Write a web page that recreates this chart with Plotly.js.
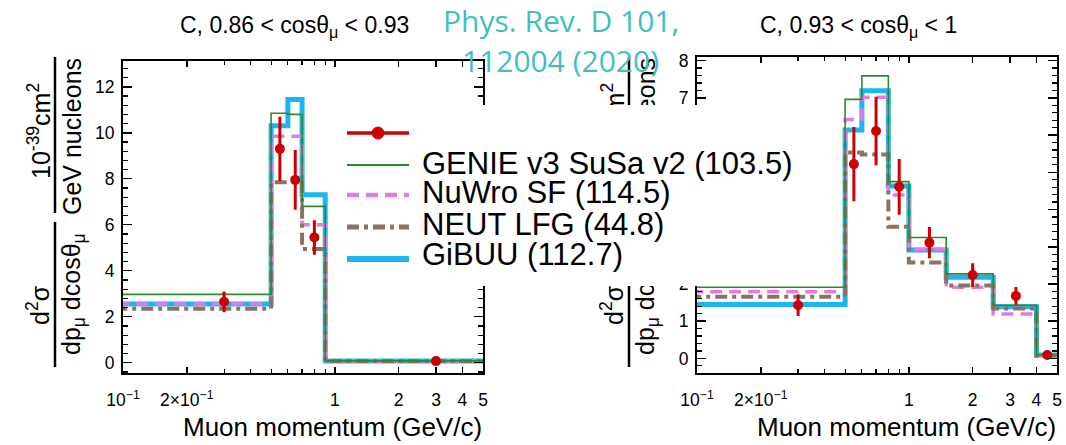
<!DOCTYPE html>
<html>
<head>
<meta charset="utf-8">
<script src="https://cdn.plot.ly/plotly-3.0.1.min.js"></script>
<style>
  html, body { margin: 0; padding: 0; background: #fff; }
  #chart { width: 1066px; height: 445px; }
</style>
</head>
<body>
<div id="chart"></div>
<script>
// Muon momentum bin edges (GeV/c); first bin starts at 0, last bin ends at 30
const edgesLow  = [0, 0.5, 0.6, 0.7, 0.9, 30];
const edgesHigh = [0, 0.5, 0.6, 0.8, 1.0, 1.5, 2.5, 4.0, 30];

// C, 0.86 < cos(theta_mu) < 0.93  (1e-39 cm^2 / GeV / nucleon)
const genieLow = [2.97, 10.85, 10.8, 6.8, 0.08];
const nuwroLow = [2.55, 9.85, 9.85, 6.0, 0.08];
const neutLow  = [2.35, 7.85, 7.85, 4.95, 0.07];
const gibuuLow = [2.55, 10.3, 11.45, 7.3, 0.08];
const dataPLow   = [0.3, 0.55, 0.65, 0.8, 3.0];
const dataLow    = [2.65, 9.3, 7.95, 5.45, 0.07];
const dataErrLow = [0.45, 1.4, 1.3, 0.75, 0.03];

// C, 0.93 < cos(theta_mu) < 1
const genieHigh = [1.91, 6.96, 7.59, 4.75, 3.25, 2.27, 1.43, 0.09];
const nuwroHigh = [1.79, 6.42, 7.02, 4.39, 2.93, 1.91, 1.19, 0.07];
const neutHigh  = [1.66, 5.53, 5.48, 3.54, 2.58, 1.96, 1.34, 0.08];
const gibuuHigh = [1.45, 6.14, 7.19, 4.63, 2.91, 2.18, 1.39, 0.09];
const dataPHigh   = [0.3, 0.55, 0.70, 0.9, 1.25, 2.0, 3.2, 4.5];
const dataHigh    = [1.43, 5.22, 6.11, 4.61, 3.11, 2.24, 1.68, 0.09];
const dataErrHigh = [0.29, 1.0, 0.92, 0.75, 0.42, 0.32, 0.24, 0.04];

// Generator names and their chi2 values
const modelNames = ['GENIE v3 SuSa v2', 'NuWro SF', 'NEUT LFG', 'GiBUU'];
const modelChi2  = [103.5, 114.5, 44.8, 112.7];

// Axis tick labels
const xTickVals  = [0.1, 0.2, 1, 2, 3, 4, 5];
const xTickText  = ['10<sup>\u22121</sup>', '2\u00d710<sup>\u22121</sup>', '1', '2', '3', '4', '5'];
const xMinorVals = [0.3, 0.4, 0.5, 0.6, 0.7, 0.8, 0.9];

const W = 1066, H = 445;
const fx = p => p / W;          // pixel -> paper x
const fy = p => 1 - p / H;      // pixel -> paper y

const styles = {
  'GENIE v3 SuSa v2': { color: '#2b8a2b', width: 1.6, dash: 'solid' },
  'NuWro SF':         { color: '#e47ae8', width: 3.5, dash: '12px,7px' },
  'NEUT LFG':         { color: '#8b7361', width: 4,   dash: '12px,5px,4px,5px' },
  'GiBUU':            { color: '#1cb5ef', width: 5,   dash: 'solid' }
};
const dataColor = '#cc0000';

// Build an 'hv' step outline from bin edges and bin contents
function stepXY(edges, vals) {
  const x = [], y = [];
  vals.forEach((v, i) => { x.push(Math.max(edges[i], 1e-3)); y.push(v); });
  x.push(edges[edges.length - 1]); y.push(vals[vals.length - 1]);
  return { x, y };
}

function panelTraces(edges, series, dp, dv, de, xa, ya) {
  const order = ['GiBUU', 'NuWro SF', 'NEUT LFG', 'GENIE v3 SuSa v2'];
  const tr = order.map(name => {
    const s = stepXY(edges, series[name]);
    const st = styles[name];
    return {
      type: 'scatter', mode: 'lines', name: name, x: s.x, y: s.y,
      xaxis: xa, yaxis: ya, line: { shape: 'hv', color: st.color, width: st.width, dash: st.dash },
      hoverinfo: 'skip'
    };
  });
  tr.push({
    type: 'scatter', mode: 'markers', name: 'Data', x: dp, y: dv, xaxis: xa, yaxis: ya,
    marker: { color: dataColor, size: 10 },
    error_y: { type: 'data', array: de, visible: true, thickness: 3, width: 0, color: dataColor }
  });
  return tr;
}

const traces = [].concat(
  panelTraces(edgesLow, { 'GENIE v3 SuSa v2': genieLow, 'NuWro SF': nuwroLow, 'NEUT LFG': neutLow, 'GiBUU': gibuuLow },
              dataPLow, dataLow, dataErrLow, 'x', 'y'),
  panelTraces(edgesHigh, { 'GENIE v3 SuSa v2': genieHigh, 'NuWro SF': nuwroHigh, 'NEUT LFG': neutHigh, 'GiBUU': gibuuHigh },
              dataPHigh, dataHigh, dataErrHigh, 'x2', 'y2')
);

const tickFont = { family: 'Liberation Sans, Arial, sans-serif', size: 17.5, color: '#000' };
const frame = {
  showline: true, linecolor: '#000', linewidth: 2, mirror: 'allticks',
  ticks: 'inside', tickcolor: '#000', tickwidth: 1.5,
  showgrid: false, zeroline: false, tickfont: tickFont, fixedrange: true
};
const xAxis = (dom, anchor) => Object.assign({}, frame, {
  domain: dom, anchor: anchor, type: 'log', range: [-1, Math.log10(5)],
  tickmode: 'array', tickvals: xTickVals, ticktext: xTickText, ticklen: 6,
  ticklabelstandoff: 10,
  minor: { ticks: 'inside', ticklen: 4, tickwidth: 1.2, tickcolor: '#000', tickmode: 'array', tickvals: xMinorVals, showgrid: false }
});
const yAxis = (dom, anchor, range, dt, mdt) => Object.assign({}, frame, {
  domain: dom, anchor: anchor, range: range, tickmode: 'linear', tick0: 0, dtick: dt, ticklen: 9,
  ticklabelstandoff: 3,
  minor: { ticks: 'inside', ticklen: 5, tickwidth: 1.2, tickcolor: '#000', dtick: mdt, tick0: 0, showgrid: false }
});

// Rotated fraction title for the y axes, offset by dx pixels
function yTitle(dx) {
  const f = { family: 'Liberation Sans, Arial, sans-serif', size: 25, color: '#000' };
  const ann = [
    { text: 'd<sup>2</sup>\u03c3', x: fx(38 + dx), y: fy(305) },
    { text: 'dp<sub>\u03bc</sub> dcos\u03b8<sub>\u03bc</sub>', x: fx(73 + dx), y: fy(294) },
    { text: '10<sup>-39</sup>cm<sup>2</sup>', x: fx(39 + dx), y: fy(131) },
    { text: 'GeV nucleons', x: fx(72 + dx), y: fy(137) }
  ].map(a => Object.assign(a, { xref: 'paper', yref: 'paper', textangle: -90, showarrow: false,
                                  xanchor: 'center', yanchor: 'middle', font: f }));
  const shp = [
    { type: 'line', xref: 'paper', yref: 'paper', x0: fx(55 + dx), x1: fx(55 + dx), y0: fy(222), y1: fy(367), line: { color: '#000', width: 2.5 } },
    { type: 'line', xref: 'paper', yref: 'paper', x0: fx(55 + dx), x1: fx(55 + dx), y0: fy(57), y1: fy(213), line: { color: '#000', width: 2.5 } }
  ];
  return { ann, shp };
}

const titleFont = { family: 'Liberation Sans, Arial, sans-serif', size: 23, color: '#000' };
const axTitleFont = { family: 'Liberation Sans, Arial, sans-serif', size: 26, color: '#000' };
const legFont = { family: 'Liberation Sans, Arial, sans-serif', size: 31, color: '#000' };
const refFont = { family: 'Open Sans, Noto Sans, sans-serif', size: 30, color: '#40bfc1' };

const ytL = yTitle(0), ytR = yTitle(574);

const annotations = [
  { text: 'C, 0.86 &lt; cos\u03b8<sub>\u03bc</sub> &lt; 0.93', x: fx(294), y: fy(26), font: titleFont },
  { text: 'C, 0.93 &lt; cos\u03b8<sub>\u03bc</sub> &lt; 1', x: fx(858), y: fy(26), font: titleFont },
  { text: 'Muon momentum (GeV/c)', x: fx(484), y: fy(427), xanchor: 'right', font: axTitleFont },
  { text: 'Muon momentum (GeV/c)', x: fx(1058), y: fy(427), xanchor: 'right', font: axTitleFont }
].map(a => Object.assign({ xref: 'paper', yref: 'paper', showarrow: false, xanchor: 'center', yanchor: 'middle' }, a))
 .concat(ytL.ann);
// the right-hand title sits behind the legend panel
const rightTitleStart = annotations.length;
ytR.ann.forEach(a => annotations.push(a));
const rightTitleEnd = annotations.length;

// Legend: white panel, line samples and labels
const legRows = [165, 195, 227, 259];
const legTextY = [163, 192, 224, 254];
const shapes = [].concat(ytL.shp, ytR.shp);
shapes.push({ type: 'rect', xref: 'paper', yref: 'paper', layer: 'above',
  x0: fx(336), x1: fx(800), y0: fy(105), y1: fy(286), fillcolor: '#fff', line: { width: 0 } });
shapes.push({ type: 'line', xref: 'paper', yref: 'paper', layer: 'above',
  x0: fx(347), x1: fx(409), y0: fy(133), y1: fy(133), line: { color: dataColor, width: 3.5 } });
shapes.push({ type: 'circle', xref: 'paper', yref: 'paper', layer: 'above',
  x0: fx(372), x1: fx(384), y0: fy(127), y1: fy(139), fillcolor: dataColor, line: { color: dataColor, width: 1 } });
modelNames.forEach((name, i) => {
  const st = styles[name];
  shapes.push({ type: 'line', xref: 'paper', yref: 'paper', layer: 'above',
    x0: fx(347), x1: fx(409), y0: fy(legRows[i]), y1: fy(legRows[i]),
    line: { color: st.color, width: st.width + (i === 0 ? 0.4 : 1.2), dash: st.dash } });
  annotations.push({ text: name + ' (' + modelChi2[i] + ')', xref: 'paper', yref: 'paper', showarrow: false,
    x: fx(420), y: fy(legTextY[i]), xanchor: 'left', yanchor: 'middle', font: legFont });
});

// Publication reference
annotations.push({ text: 'Phys. Rev. D 101,', xref: 'paper', yref: 'paper', showarrow: false,
  x: fx(561), y: fy(21), xanchor: 'center', yanchor: 'middle', font: refFont });
annotations.push({ text: '112004 (2020)', xref: 'paper', yref: 'paper', showarrow: false,
  x: fx(560), y: fy(61), xanchor: 'center', yanchor: 'middle', font: refFont });

const layout = {
  width: W, height: H,
  margin: { l: 0, r: 0, t: 0, b: 0 },
  paper_bgcolor: '#fff', plot_bgcolor: '#fff',
  showlegend: false,
  font: { family: 'Liberation Sans, Arial, sans-serif', color: '#000' },
  xaxis:  xAxis([fx(123), fx(483)], 'y'),
  yaxis:  yAxis([fy(373.3), fy(61)], 'x', [-0.46, 13.12], 2, 0.4),
  xaxis2: xAxis([fx(697), fx(1057)], 'y2'),
  yaxis2: yAxis([fy(373.3), fy(57.3)], 'x2', [-0.40, 8.09], 1, 0.2),
  annotations: annotations,
  shapes: shapes
};

Plotly.newPlot('chart', traces, layout, { displayModeBar: false, staticPlot: true }).then(gd => {
  // Move the right-hand axis title under the legend panel so the panel hides its middle part
  const paper = gd.querySelector('.main-svg');
  const above = paper.querySelector('.layer-above');
  gd.querySelectorAll('.annotation').forEach(g => {
    const i = +g.getAttribute('data-index');
    if (i >= rightTitleStart && i < rightTitleEnd) paper.insertBefore(g, above);
  });
});
</script>
</body>
</html>
